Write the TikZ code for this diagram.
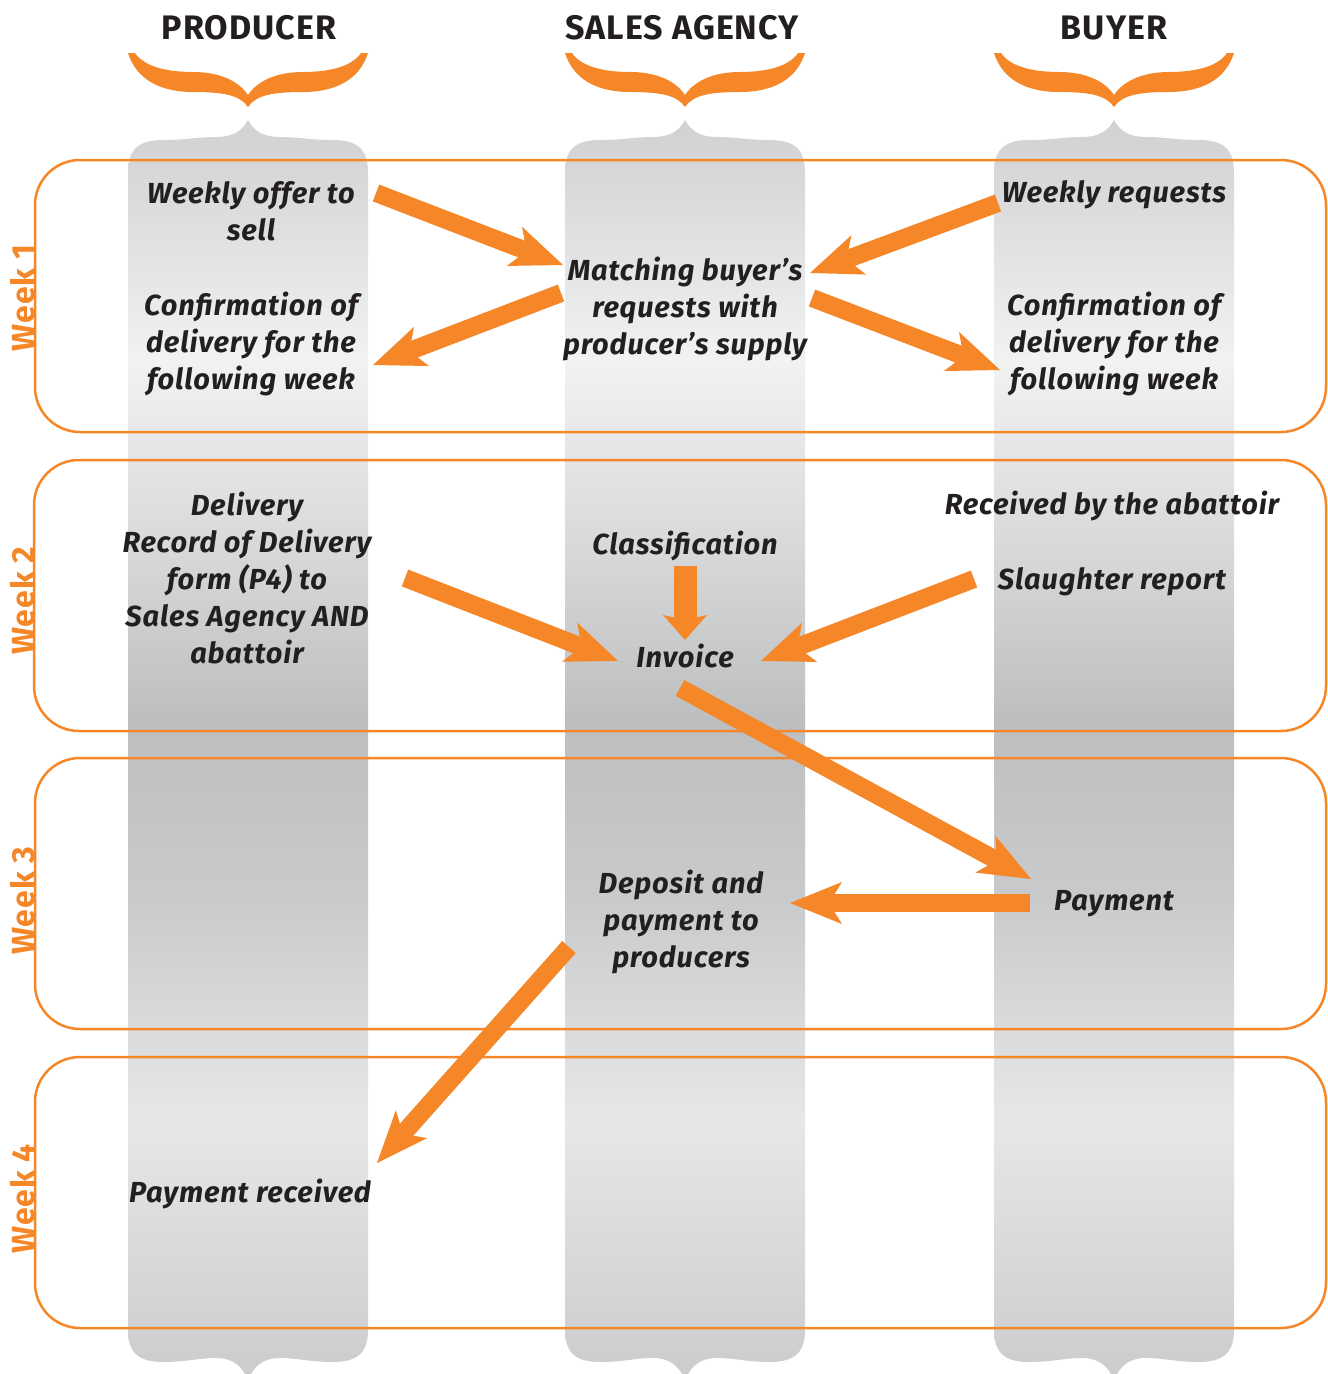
\documentclass[tikz,border=0pt]{standalone}
\usepackage{fontspec}
\setmainfont[LetterSpace=3]{Fira Sans}
\usetikzlibrary{arrows.meta}
\definecolor{orng}{HTML}{F58728}
\definecolor{ink}{HTML}{231F20}
% column shading stops, top to bottom
\definecolor{g0}{HTML}{CFD0D2}
\definecolor{g1}{HTML}{DADBDD}
\definecolor{g2}{HTML}{F1F2F2}
\definecolor{g3}{HTML}{D6D7D9}
\definecolor{g4}{HTML}{BDBEC0}
\definecolor{g5}{HTML}{C9CACC}
\definecolor{g6}{HTML}{E6E7E8}
\definecolor{g7}{HTML}{CACBCD}
\begin{document}
\begin{tikzpicture}[x=1pt,y=-1pt,
  hdr/.style={font=\bfseries\fontsize{34}{40}\selectfont, text=ink, inner sep=0pt},
  txt/.style={font=\bfseries\itshape\fontsize{29}{37}\selectfont, text=ink, align=center, inner sep=0pt},
  wk/.style={font=\bfseries\fontsize{32}{36}\selectfont, text=orng, rotate=90, inner sep=0pt},
  weekbox/.style={draw=orng, line width=2.5pt, rounded corners=45pt},
  flow/.style={draw=orng, line width=18pt, -{Stealth[length=52pt,width=42pt,inset=13pt,line width=0pt]}},
  shortflow/.style={draw=orng, line width=23pt, -{Stealth[length=25pt,width=44pt,inset=5pt,line width=0pt]}},
]
\useasboundingbox (0,0) rectangle (1328,1374);

% grey lanes with brace-shaped ends, and the orange braces above them
\foreach \c in {248,685,1114}{
  \begin{scope}[xshift=\c pt]
    \begin{scope}
      \clip (0,120) .. controls (6,131) and (15,137) .. (32,137)
        .. controls (50,137) and (62,140) .. (85,140)
        .. controls (110,140) and (120,150) .. (120,172)
        -- (120,1330)
        .. controls (120,1352) and (110,1362) .. (85,1362)
        .. controls (62,1362) and (50,1358) .. (32,1358)
        .. controls (15,1358) and (6,1366) .. (0,1380)
        .. controls (-6,1366) and (-15,1358) .. (-32,1358)
        .. controls (-50,1358) and (-62,1362) .. (-85,1362)
        .. controls (-110,1362) and (-120,1352) .. (-120,1330)
        -- (-120,172)
        .. controls (-120,150) and (-110,140) .. (-85,140)
        .. controls (-62,140) and (-50,137) .. (-32,137)
        .. controls (-15,137) and (-6,131) .. (0,120) -- cycle;
      \foreach \ya/\ca/\yb/\cb in {110/g0/200/g1, 200/g1/360/g2, 360/g2/560/g3,
          560/g3/720/g4, 720/g4/900/g5, 900/g5/1120/g6, 1120/g6/1385/g7}{
        \shade[top color=\ca, bottom color=\cb] (-125,\ya-0.6) rectangle (125,\yb+0.6);
      }
    \end{scope}
    \fill[orng] (-120,53) .. controls (-112,78) and (-90,92) .. (-55,92)
      .. controls (-25,92) and (-8,95) .. (0,107)
      .. controls (8,95) and (25,92) .. (55,92)
      .. controls (90,92) and (112,78) .. (120,53)
      -- (113,53)
      .. controls (105,65) and (85,72) .. (55,72)
      .. controls (30,72) and (10,80) .. (0,95)
      .. controls (-10,80) and (-30,72) .. (-55,72)
      .. controls (-85,72) and (-105,65) .. (-113,53) -- cycle;
  \end{scope}
}

% column headings
\node[hdr] (hP) at (249,28) {PRODUCER};
\node[hdr] (hS) at (682,28) {SALES AGENCY};
\node[hdr] (hB) at (1114,28) {BUYER};

% week bands
\draw[weekbox] (35,160) rectangle (1326,432);
\draw[weekbox] (34,460) rectangle (1326,731);
\draw[weekbox] (35,758) rectangle (1326,1029);
\draw[weekbox] (35,1057) rectangle (1326,1328);
\node[wk] (w1) at (23,298) {Week 1};
\node[wk] (w2) at (23,601) {Week 2};
\node[wk] (w3) at (23,901) {Week 3};
\node[wk] (w4) at (23,1199) {Week 4};

% steps
\node[txt] (offer) at (251,211) {Weekly offer to\\sell};
\node[txt] (pconf) at (251,344) {Confirmation of\\delivery for the\\following week};
\node[txt] (match) at (685,309) {Matching buyer’s\\requests with\\producer’s supply};
\node[txt] (req) at (1114,195) {Weekly requests};
\node[txt] (bconf) at (1114,344) {Confirmation of\\delivery for the\\following week};
\node[txt] (deliv) at (247,578) {Delivery\\Record of Delivery\\form (P4) to\\Sales Agency AND\\abattoir};
\node[txt] (class) at (685,546) {Classification};
\node[txt] (inv) at (685,656) {Invoice};
\node[txt] (recv) at (1112,506) {Received by the abattoir};
\node[txt] (slaughter) at (1112,582) {Slaughter report};
\node[txt] (dep) at (681,922) {Deposit and\\payment to\\producers};
\node[txt] (pay) at (1114,904) {Payment};
\node[txt] (prec) at (250,1194) {Payment received};

% arrow ends
\coordinate (offerOut) at (376,193);
\coordinate (matchInL) at (563,265);
\coordinate (matchOutL) at (561,293);
\coordinate (pconfIn) at (373,365);
\coordinate (reqOut) at (998,203);
\coordinate (matchInR) at (810,273);
\coordinate (matchOutR) at (812,298);
\coordinate (bconfIn) at (1000,370);
\coordinate (delivOut) at (405,578);
\coordinate (invInL) at (618,661);
\coordinate (classOut) at (685,566);
\coordinate (invInT) at (685,640);
\coordinate (slOut) at (974,579);
\coordinate (invInR) at (761,661);
\coordinate (invOut) at (680,688);
\coordinate (payIn) at (1031,879);
\coordinate (payOut) at (1030,903);
\coordinate (depIn) at (790,903);
\coordinate (depOut) at (569,947);
\coordinate (precIn) at (377,1163);

\draw[flow] (offerOut) -- (matchInL);
\draw[flow] (matchOutL) -- (pconfIn);
\draw[flow] (reqOut) -- (matchInR);
\draw[flow] (matchOutR) -- (bconfIn);
\draw[flow] (delivOut) -- (invInL);
\draw[shortflow] (classOut) -- (invInT);
\draw[flow] (slOut) -- (invInR);
\draw[flow] (invOut) -- (payIn);
\draw[flow] (payOut) -- (depIn);
\draw[flow] (depOut) -- (precIn);
\end{tikzpicture}
\end{document}
